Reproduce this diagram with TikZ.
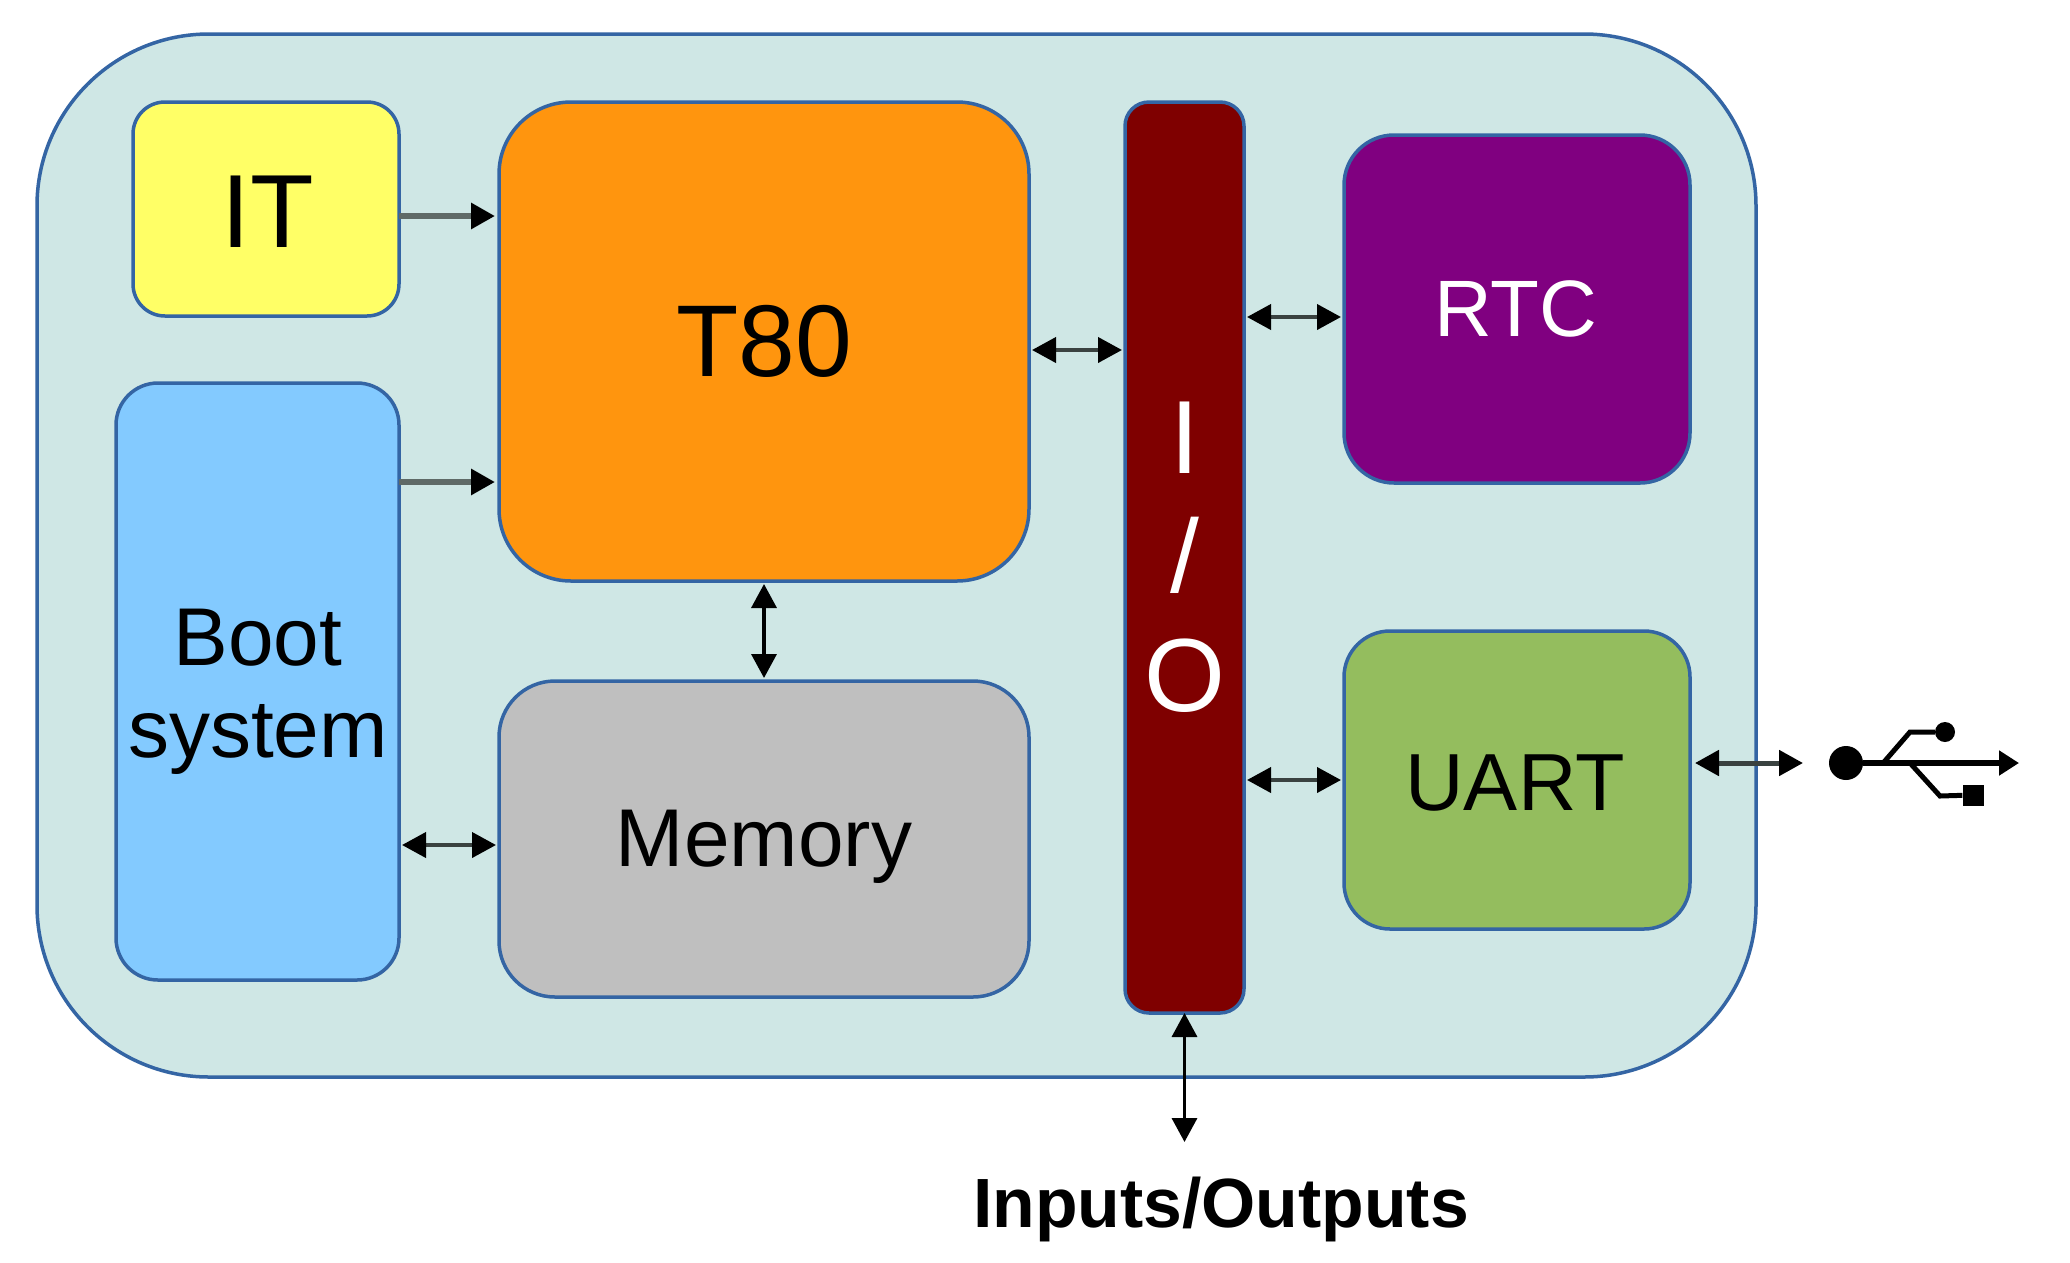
\documentclass[tikz,border=0pt]{standalone}
\usepackage{fontspec}
\setmainfont{Liberation Sans}
\usetikzlibrary{arrows.meta,calc}
\definecolor{edgeblue}{HTML}{3465A4}
\definecolor{panel}{HTML}{CFE7E5}
\definecolor{ityellow}{HTML}{FFFF66}
\definecolor{cpuorange}{HTML}{FF950E}
\definecolor{bootblue}{HTML}{83CAFF}
\definecolor{memgrey}{HTML}{BFBFBF}
\definecolor{iomaroon}{HTML}{7F0000}
\definecolor{rtcpurple}{HTML}{800080}
\definecolor{uartgreen}{HTML}{94BD5E}
\definecolor{wire}{HTML}{3A4240}
\definecolor{wiregrey}{HTML}{5F6A67}
\tikzset{
  blk/.style={draw=edgeblue,line width=3.5pt,inner sep=0pt,outer sep=0pt},
  txt/.style={inner sep=0pt,align=center,text=black},
  blacktip/.tip={Triangle[length=24pt,width=25pt,fill=black,color=black]},
  link/.style={draw=wire,line width=4pt,{blacktip}-{blacktip}},
  thinlink/.style={draw=black,line width=3.5pt,{blacktip}-{blacktip}},
  oneway/.style={draw=wiregrey,line width=6pt,-{blacktip}},
}
\newcommand{\fs}[2]{\fontsize{#1pt}{#2pt}\selectfont}
\begin{document}
\begin{tikzpicture}[x=1pt,y=-1pt]
\useasboundingbox[fill=white] (0,0) rectangle (2070,1262);
\node[blk,fill=panel,rounded corners=172pt,minimum width=1719pt,minimum height=1043pt] (panel) at (896.5,555.5) {};
\node[blk,fill=ityellow,rounded corners=32pt,minimum width=266pt,minimum height=214pt] (it) at (266,209) {};
\node[blk,fill=cpuorange,rounded corners=72pt,minimum width=530pt,minimum height=479pt] (t80) at (764,341.5) {};
\node[blk,fill=bootblue,rounded corners=42pt,minimum width=283pt,minimum height=597pt] (boot) at (257.5,681.5) {};
\node[blk,fill=memgrey,rounded corners=56pt,minimum width=530pt,minimum height=316pt] (mem) at (764,839) {};
\node[blk,fill=iomaroon,rounded corners=24pt,minimum width=119pt,minimum height=911pt] (io) at (1184.5,557.5) {};
\node[blk,fill=rtcpurple,rounded corners=50pt,minimum width=346pt,minimum height=348pt] (rtc) at (1517,309) {};
\node[blk,fill=uartgreen,rounded corners=46pt,minimum width=346pt,minimum height=298pt] (uart) at (1517,780) {};
\node[txt,font=\fs{104}{110}] (ittext) at (268,212) {IT};
\node[txt,font=\fs{102}{110}] (t80text) at (764,341.5) {T80};
\node[txt,font=\fs{82}{92}] (boottext) at (258,692) {Boot\\system};
\node[txt,font=\fs{82}{94}] (memtext) at (764,847) {Memory};
\node[txt,font=\fs{104}{119},text=white] (iotext) at (1184.5,557.5) {I\\/\\O};
\node[txt,font=\fs{80}{94},text=white] (rtctext) at (1516,309) {RTC};
\node[txt,font=\fs{81}{94}] (uarttext) at (1515,783) {UART};
\node[txt,font=\bfseries\fs{69.7}{80}] (iolabel) at (1221,1209) {Inputs/Outputs};
% connectors
\draw[oneway,shorten >=4pt] (it.east |- 0,216) coordinate (a1) -- (a1 -| t80.west);
\draw[oneway,shorten >=4pt] (boot.east |- 0,482) coordinate (a2) -- (a2 -| t80.west);
\draw[link,shorten >=3pt,shorten <=3pt] (t80.east |- 0,350) coordinate (a3) -- (a3 -| io.west);
\draw[link,shorten >=3pt,shorten <=3pt] (io.east |- 0,317) coordinate (a4) -- (a4 -| rtc.west);
\draw[link,shorten >=3pt,shorten <=3pt] (io.east |- 0,780) coordinate (a5) -- (a5 -| uart.west);
\draw[link,shorten >=3pt,shorten <=3pt] (boot.east |- 0,845) coordinate (a6) -- (a6 -| mem.west);
\draw[thinlink,shorten >=3pt,shorten <=3pt] (t80.south) -- (mem.north);
\coordinate (ioend) at (1184.5,1142);
\draw[thinlink] (io.south) -- (ioend);
\coordinate (usbport) at (1803,763);
\draw[link,line width=5pt,shorten <=5pt] (uart.east |- usbport) -- (usbport);
% USB symbol
\node[circle,fill=black,inner sep=0pt,minimum size=34pt] (usbdot) at (1846,763) {};
\node[circle,fill=black,inner sep=0pt,minimum size=20pt] (usbtop) at (1945,732) {};
\node[rectangle,fill=black,inner sep=0pt,minimum size=21pt] (usbbot) at (1973,795) {};
\coordinate (usbtip) at (2019,763);
\draw[black,line width=6.5pt,-{Triangle[length=20pt,width=24pt]}] (usbdot) -- (usbtip);
\draw[black,line width=5pt] (1884,762) -- (1910,732) -- (usbtop);
\draw[black,line width=5pt] (1910,763) -- (1940,796) -- (usbbot);
\end{tikzpicture}
\end{document}
